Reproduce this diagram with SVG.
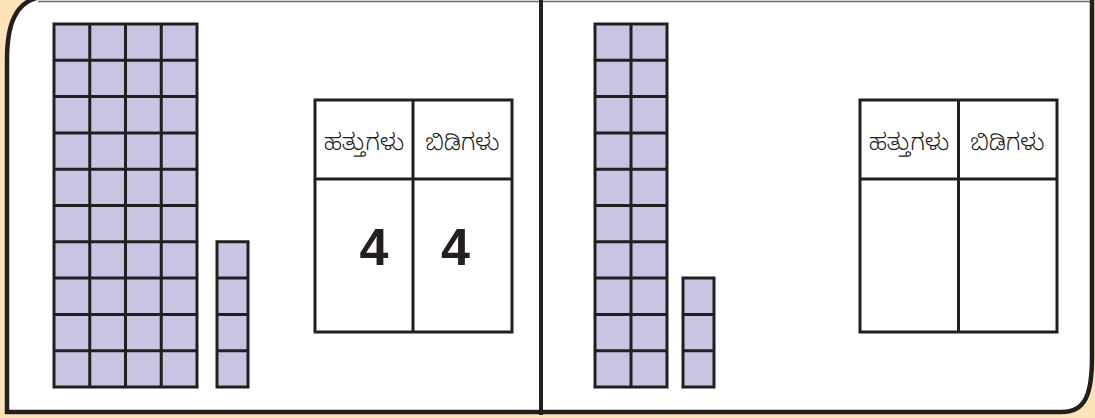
<svg xmlns="http://www.w3.org/2000/svg" width="1095" height="418" viewBox="0 0 1095 418">
<style>
.cell{fill:#C8C5E2;stroke:none}
.ln{stroke:#231F20;stroke-width:3;fill:none}
.tbl{fill:#FFFFFF;stroke:#231F20;stroke-width:3}
.hd{font-family:"Noto Sans Kannada","Noto Sans","Lohit Kannada",sans-serif;font-size:23px;font-weight:300;fill:#231F20;text-anchor:middle}
.num{font-family:"Liberation Sans",Arial,sans-serif;font-weight:bold;font-size:52px;fill:#231F20;text-anchor:middle}
</style>
<rect x="0" y="0" width="1095" height="418" fill="#FEE3B9"/>
<g id="frame">
<path d="M7,412 L1062,412 C1085,412 1092,395 1092,357 L1092,-5 L40,-5 C15,0 7,25 7,60 Z" fill="#FFFFFF"/>
<path d="M38,1.5 L1092,1.5" stroke="#6D6E71" stroke-width="1.5" fill="none"/>
<path d="M40,-3 C15,2 7,25 7,60 L7,412 L1062,412 C1085,412 1092,395 1092,357 L1092,-5" stroke="#231F20" stroke-width="4.5" fill="none"/>
<path d="M541,0 L541,415" stroke="#231F20" stroke-width="4"/>
</g>
<g id="left-tens">
<rect class="cell" x="54" y="24" width="143" height="363"/>
<path class="ln" d="M54,24 H197 V387 H54 Z M89.75,24 V387 M125.5,24 V387 M161.25,24 V387 M54,60.3 H197 M54,96.6 H197 M54,132.9 H197 M54,169.2 H197 M54,205.5 H197 M54,241.8 H197 M54,278.1 H197 M54,314.4 H197 M54,350.7 H197"/>
</g>
<g id="left-ones">
<rect class="cell" x="217" y="241.8" width="31" height="145.2"/>
<path class="ln" d="M217,241.8 H248 V387 H217 Z M217,278.1 H248 M217,314.4 H248 M217,350.7 H248"/>
</g>
<g id="left-table">
<rect class="tbl" x="315" y="100" width="197" height="232"/>
<path class="ln" d="M413,100 V332 M315,179 H512"/>
<text class="hd" x="364" y="150">ಹತ್ತುಗಳು</text>
<text class="hd" x="462.5" y="150">ಬಿಡಿಗಳು</text>
<text class="num" x="374" y="265">4</text>
<text class="num" x="455.5" y="265">4</text>
</g>
<g id="right-tens">
<rect class="cell" x="595" y="24" width="72" height="363"/>
<path class="ln" d="M595,24 H667 V387 H595 Z M631,24 V387 M595,60.3 H667 M595,96.6 H667 M595,132.9 H667 M595,169.2 H667 M595,205.5 H667 M595,241.8 H667 M595,278.1 H667 M595,314.4 H667 M595,350.7 H667"/>
</g>
<g id="right-ones">
<rect class="cell" x="683" y="278.1" width="31" height="108.9"/>
<path class="ln" d="M683,278.1 H714 V387 H683 Z M683,314.4 H714 M683,350.7 H714"/>
</g>
<g id="right-table">
<rect class="tbl" x="860" y="100" width="197" height="232"/>
<path class="ln" d="M958.5,100 V332 M860,179 H1057"/>
<text class="hd" x="909" y="150">ಹತ್ತುಗಳು</text>
<text class="hd" x="1007.5" y="150">ಬಿಡಿಗಳು</text>
</g>
<g id="connectors"/>
</svg>
